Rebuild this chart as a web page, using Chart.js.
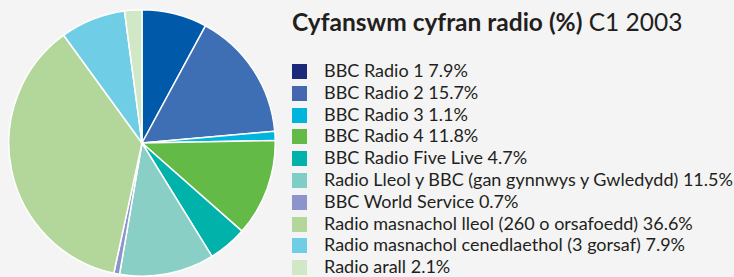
<!DOCTYPE html>
<html>
<head>
<meta charset="utf-8">
<script src="https://cdn.jsdelivr.net/npm/chart.js@4/dist/chart.umd.min.js"></script>
<style>
  html, body { margin: 0; padding: 0; background: #f4f4f4; }
  #wrap { position: relative; width: 734px; height: 277px; overflow: hidden; background: #f4f4f4; }
  #pieBox { position: absolute; left: 8px; top: 9px; width: 268px; height: 268px; }
  #title { position: absolute; left: 292px; top: 7px; font-family: Lato, sans-serif; font-size: 24.5px; color: #231f20; white-space: nowrap; line-height: 30px; }
  #title b { font-weight: 700; }
  #legend { position: absolute; left: 292px; top: 64px; font-family: Lato, sans-serif; font-size: 18px; color: #231f20; }
  .row { position: absolute; left: 0; height: 16px; white-space: nowrap; }
  .sw { position: absolute; left: 0; top: 0; width: 15px; height: 15px; }
  .lbl { position: absolute; left: 32px; top: -5px; line-height: 22px; }
</style>
</head>
<body>
<div id="wrap">
  <div id="pieBox"><canvas id="chart1"></canvas></div>
  <div id="title"><b>Cyfanswm cyfran radio (%)</b> C1 2003</div>
  <div id="legend"></div>
</div>
<script>
// categories + values (clockwise from 12 o'clock)
var labels = [
  "BBC Radio 1",
  "BBC Radio 2",
  "BBC Radio 3",
  "BBC Radio 4",
  "BBC Radio Five Live",
  "Radio Lleol y BBC (gan gynnwys y Gwledydd)",
  "BBC World Service",
  "Radio masnachol lleol (260 o orsafoedd)",
  "Radio masnachol cenedlaethol (3 gorsaf)",
  "Radio arall"
];
var values = [7.9, 15.7, 1.1, 11.8, 4.7, 11.5, 0.7, 36.6, 7.9, 2.1];

var sliceColors = ["#0059a9", "#3e6fb5", "#00b5dd", "#63ba47", "#00b2aa",
  "#89cfc6", "#8b95cb", "#b3d69a", "#6fcde6", "#d0e8c5"];
var legendColors = ["#1b2a78", "#4467b0", "#00b5dd", "#63ba47", "#00b2aa",
  "#7ecdc6", "#8b95cb", "#b3d69a", "#6fcde6", "#d0e8c5"];

const ctx = document.getElementById("chart1");

var myChart = new Chart(ctx, {
  type: "pie",
  data: {
    labels: labels,
    datasets: [
      {
        data: values,
        backgroundColor: sliceColors,
        borderColor: "#ffffff",
        borderWidth: 1.5,
      },
    ],
  },
  options: {
    responsive: true,
    maintainAspectRatio: false,
    animation: false,
    events: [],
    layout: { padding: 0 },
    plugins: {
      legend: { display: false },
      title: { display: false },
      tooltip: { enabled: false },
    },
  },
});

//legend on the right, built from the same arrays
var legendDiv = document.getElementById("legend");
for (var i = 0; i < labels.length; i++) {
  var row = document.createElement("div");
  row.className = "row";
  row.style.top = Math.round(i * 21.8) + "px";
  var sw = document.createElement("div");
  sw.className = "sw";
  sw.style.background = legendColors[i];
  var lbl = document.createElement("div");
  lbl.className = "lbl";
  lbl.textContent = labels[i] + " " + values[i] + "%";
  row.appendChild(sw);
  row.appendChild(lbl);
  legendDiv.appendChild(row);
}
</script>
</body>
</html>
